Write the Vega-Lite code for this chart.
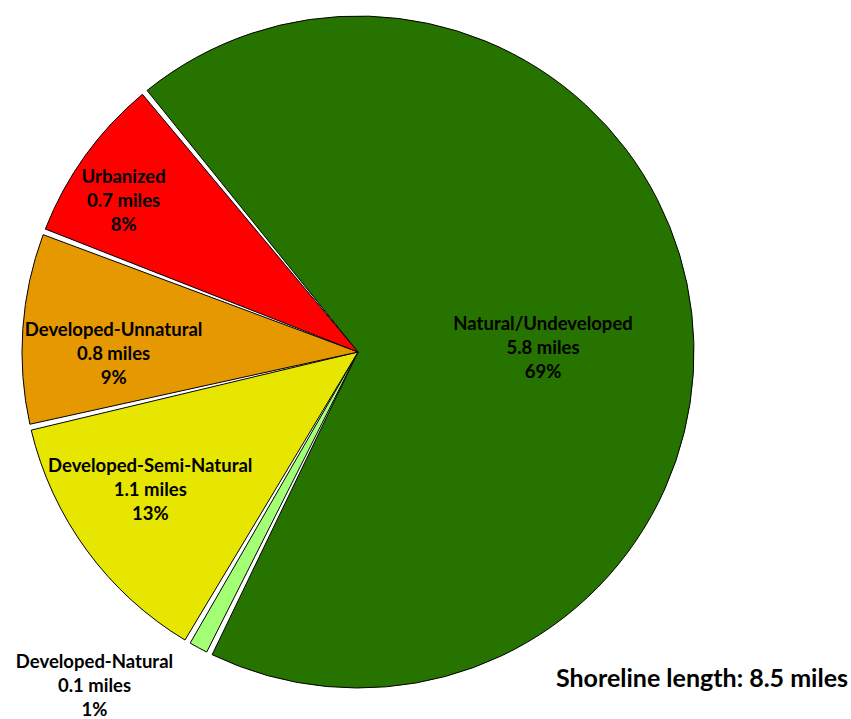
{
  "$schema": "https://vega.github.io/schema/vega-lite/v6.json",
  "width": 716,
  "height": 704,
  "autosize": {"type": "none"},
  "padding": {"left": 0, "top": 0, "right": 135, "bottom": 15},
  "background": "white",
  "config": {"view": {"stroke": null}, "font": "Lato"},
  "title": {
    "text": "Shoreline length: 8.5 miles",
    "orient": "top",
    "anchor": "end",
    "frame": "group",
    "font": "Lato",
    "fontSize": 25,
    "fontWeight": "bold",
    "color": "black",
    "baseline": "middle",
    "offset": 0,
    "dx": 132,
    "dy": 704
  },
  "data": {
    "values": [
      {"category": "Natural/Undeveloped", "miles": 5.8, "pct": 69, "rank": 1},
      {"category": "Developed-Natural", "miles": 0.1, "pct": 1, "rank": 2},
      {"category": "Developed-Semi-Natural", "miles": 1.1, "pct": 13, "rank": 3},
      {"category": "Developed-Unnatural", "miles": 0.8, "pct": 9, "rank": 4},
      {"category": "Urbanized", "miles": 0.7, "pct": 8, "rank": 5}
    ]
  },
  "transform": [
    {"calculate": "datum.category + '\\n' + datum.miles + ' miles\\n' + datum.pct + '%'", "as": "label"}
  ],
  "encoding": {
    "theta": {"field": "miles", "type": "quantitative", "stack": true, "scale": {"range": [-0.6877, 5.5955]}},
    "order": {"field": "rank", "type": "quantitative"}
  },
  "layer": [
    {
      "mark": {"type": "arc", "radius": 336, "stroke": "black", "strokeWidth": 1, "padAngle": 0.018},
      "encoding": {
        "color": {
          "field": "category",
          "type": "nominal",
          "scale": {
            "domain": ["Natural/Undeveloped", "Developed-Natural", "Developed-Semi-Natural", "Developed-Unnatural", "Urbanized"],
            "range": ["#267300", "#a3ff73", "#e6e600", "#e69800", "#ff0000"]
          },
          "legend": null
        }
      }
    },
    {
      "mark": {"type": "text", "radius": 147, "dx": 39, "dy": -11, "font": "Lato", "fontSize": 18.5, "fontWeight": "bold", "color": "black", "lineBreak": "\n", "lineHeight": 24, "align": "center", "baseline": "middle"},
      "encoding": {"text": {"condition": {"test": "datum.category == 'Natural/Undeveloped'", "field": "label"}, "value": ""}}
    },
    {
      "mark": {"type": "text", "radius": 279, "dx": -8, "dy": -12, "font": "Lato", "fontSize": 18.5, "fontWeight": "bold", "color": "black", "lineBreak": "\n", "lineHeight": 24, "align": "center", "baseline": "middle"},
      "encoding": {"text": {"condition": {"test": "datum.category == 'Urbanized'", "field": "label"}, "value": ""}}
    },
    {
      "mark": {"type": "text", "radius": 245, "dy": -5, "font": "Lato", "fontSize": 18.5, "fontWeight": "bold", "color": "black", "lineBreak": "\n", "lineHeight": 24, "align": "center", "baseline": "middle"},
      "encoding": {"text": {"condition": {"test": "datum.category == 'Developed-Unnatural'", "field": "label"}, "value": ""}}
    },
    {
      "mark": {"type": "text", "radius": 260, "dx": 2, "dy": -40, "font": "Lato", "fontSize": 18.5, "fontWeight": "bold", "color": "black", "lineBreak": "\n", "lineHeight": 24, "align": "center", "baseline": "middle"},
      "encoding": {"text": {"condition": {"test": "datum.category == 'Developed-Semi-Natural'", "field": "label"}, "value": ""}}
    },
    {
      "mark": {"type": "text", "radius": 340, "dx": -102, "dy": 11, "font": "Lato", "fontSize": 18.5, "fontWeight": "bold", "color": "black", "lineBreak": "\n", "lineHeight": 24, "align": "center", "baseline": "middle"},
      "encoding": {"text": {"condition": {"test": "datum.category == 'Developed-Natural'", "field": "label"}, "value": ""}}
    }
  ]
}
